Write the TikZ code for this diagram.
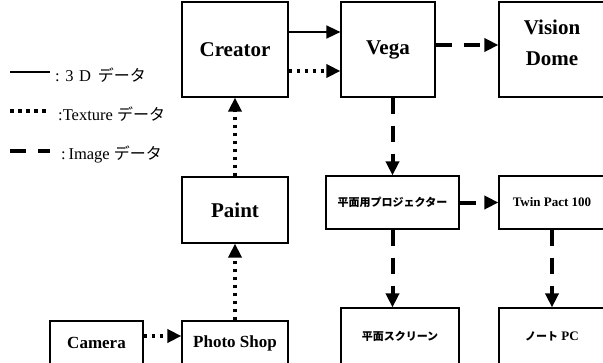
\documentclass[tikz,border=0pt]{standalone}
\usepackage{fontspec}
\setmainfont{Liberation Serif}
\newfontfamily\jp{Noto Sans CJK JP}
\usetikzlibrary{arrows.meta}

\begin{document}
\begin{tikzpicture}[x=1pt,y=-1pt,
		box/.style={draw,line width=1.2pt,inner sep=0pt},
		big/.style={box,font=\fontsize{21}{25}\selectfont\bfseries},
		small/.style={box,font=\fontsize{17}{19}\selectfont\bfseries},
		tiny/.style={box,font=\fontsize{13}{15}\selectfont\bfseries},
		jpbox/.style={box,font=\fontsize{11}{13}\selectfont\jp\bfseries},
		key/.style={anchor=west,inner sep=0pt,font=\fontsize{16.5}{18}\selectfont},
		tip/.style={-{Triangle[length=14pt,width=13pt]}},
		solidline/.style={line width=1.6pt,tip},
		dotline/.style={line width=3.5pt,dash pattern=on 3.5pt off 4.5pt,tip},
		dashline/.style={line width=4pt,dash pattern=on 16pt off 12pt,tip}]
		\useasboundingbox (0,0) rectangle (603,362);
		% legend
		\draw [line width=1.6pt] (10,72) -- (50,72);
		\draw [line width=3.5pt,dash pattern=on 3.5pt off 4.5pt] (10,111) -- (47,111);
		\draw [line width=4pt,dash pattern=on 16pt off 12pt] (10,151) -- (50,151);
		\node [key] (key3d) at (55,75) {:\,\,3\,\,D\, {\jp\fontsize{16}{18}\selectfont データ}};
		\node [key] (keytex) at (58,114) {:Texture {\jp\fontsize{16}{18}\selectfont データ}};
		\node [key] (keyimg) at (61,154) {:\,Image {\jp\fontsize{16}{18}\selectfont データ}};
		% boxes
		\node [big,minimum width=106pt,minimum height=95pt] (creator) at (235,49.5) {Creator};
		\node [big,minimum width=94pt,minimum height=95pt] (vega) at (388,49.5) {Vega};
		\node [big,minimum width=106pt,minimum height=95pt] (dome) at (552,49.5) {};
		\node [font=\fontsize{21}{31}\selectfont\bfseries,align=center] (dometext) at (552,43) {Vision\\Dome};
		\node [big,minimum width=106pt,minimum height=66pt] (paint) at (235,210) {Paint};
		\node [small,minimum width=106pt,minimum height=44pt] (photo) at (235,343) {Photo Shop};
		\node [small,minimum width=93pt,minimum height=44pt] (camera) at (96.5,343) {Camera};
		\node [jpbox,minimum width=133pt,minimum height=53pt] (proj) at (392.5,202.5) {平面用プロジェクター};
		\node [tiny,minimum width=106pt,minimum height=53pt] (twin) at (552,202.5) {Twin Pact 100};
		\node [jpbox,minimum width=118pt,minimum height=56pt] (screen) at (400,336) {平面スクリーン};
		\node [tiny,minimum width=106pt,minimum height=56pt] (note) at (552,336) {{\jp\fontsize{11}{13}\selectfont ノート} PC};
		% connectors
		\draw [solidline] (creator.east |- 0,32) -- (vega.west |- 0,32);
		\draw [dotline] (creator.east |- 0,71) -- (vega.west |- 0,71);
		\draw [dashline] (vega.east |- 0,45) -- (dome.west |- 0,45);
		\draw [dashline] (proj.north |- vega.south) -- (proj.north);
		\draw [dashline] (proj.east) -- (twin.west);
		\draw [dashline] (proj.south) -- (proj.south |- screen.north);
		\draw [dashline] (twin.south) -- (note.north);
		\draw [dotline] (paint.north) -- (creator.south);
		\draw [dotline] (photo.north) -- (paint.south);
		\draw [dotline] (camera.east |- 0,336) -- (photo.west |- 0,336);
	\end{tikzpicture}
\end{document}
